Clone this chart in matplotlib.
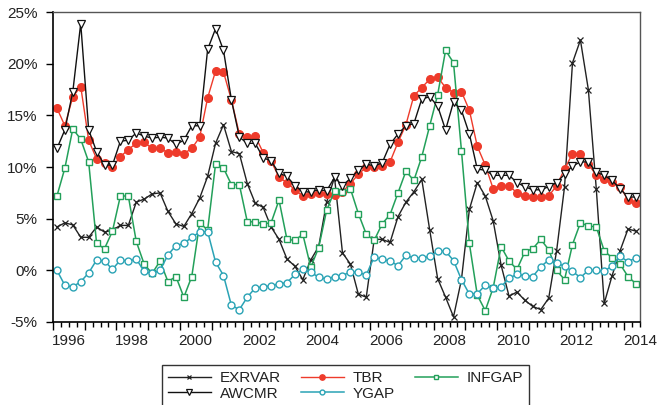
import numpy as np
import matplotlib
matplotlib.use("Agg")
import matplotlib.pyplot as plt
from matplotlib.ticker import FuncFormatter

# quarterly data, 1996Q1 - 2014Q2 (percent)
start_year = 1996
exrvar = [4.2, 4.6, 4.4, 3.2, 3.2, 4.2, 3.7, 3.9, 4.35, 4.35, 6.6, 6.9, 7.4, 7.5, 5.7, 4.5,
          4.25, 5.5, 7.0, 9.1, 12.3, 14.1, 11.5, 11.3, 8.4, 6.5, 6.1, 4.2, 3.0, 1.1, 0.4, -0.9,
          1.0, 2.3, 6.6, 9.0, 1.7, 0.6, -2.3, -2.6, 3.0, 3.0, 2.7, 5.2, 6.6, 7.6, 8.8, 3.9,
          -0.8, -2.6, -4.5, -0.9, 5.9, 8.5, 7.2, 4.8, 0.5, -2.5, -2.1, -2.9, -3.5, -3.8, -2.7, 1.9,
          8.1, 20.1, 22.3, 17.5, 7.9, -3.2, -0.5, 1.9, 4.0, 3.8]
tbr = [15.7, 14.0, 16.8, 17.8, 12.6, 10.8, 10.4, 10.0, 11.0, 11.7, 12.3, 12.4, 11.8, 11.8, 11.4, 11.5,
       11.3, 11.8, 12.9, 16.7, 19.3, 19.2, 16.5, 13.2, 12.9, 13.0, 11.4, 10.6, 9.0, 8.5, 7.8, 7.2,
       7.4, 7.5, 7.4, 7.3, 7.6, 8.4, 9.3, 10.0, 10.0, 10.1, 10.5, 12.4, 14.1, 16.9, 17.7, 18.5,
       18.7, 17.7, 17.2, 17.3, 15.5, 12.0, 10.2, 7.9, 8.2, 8.2, 7.5, 7.2, 7.1, 7.1, 7.2, 8.2,
       9.8, 11.3, 11.3, 10.3, 9.2, 8.8, 8.6, 8.1, 6.8, 6.5]
infgap = [7.2, 9.9, 13.7, 12.7, 10.5, 2.6, 2.1, 3.8, 7.2, 7.2, 2.8, 0.6, -0.3, 0.9, -1.1, -0.6,
          -2.6, -0.6, 4.6, 3.9, 10.3, 9.9, 8.3, 8.3, 4.7, 4.7, 4.5, 4.6, 6.8, 3.0, 2.9, 3.5,
          0.3, 2.2, 5.8, 7.7, 7.6, 7.9, 5.5, 3.5, 2.9, 4.5, 5.4, 7.5, 9.6, 8.7, 11.0, 14.0,
          17.0, 21.3, 20.1, 11.6, 2.6, -2.4, -3.9, -1.7, 2.3, 0.9, 0.1, 1.8, 2.1, 3.0, 2.0, 0.0,
          -0.9, 2.5, 4.6, 4.3, 4.2, 1.9, 1.2, 0.6, -0.6, -1.3]
awcmr = [11.8, 13.6, 17.3, 23.9, 13.6, 11.5, 10.2, 10.2, 12.5, 12.6, 13.3, 13.0, 12.8, 12.9, 12.8, 12.2,
         12.6, 14.0, 14.0, 21.4, 23.4, 21.3, 16.5, 12.9, 12.3, 12.3, 10.9, 10.6, 9.4, 9.1, 8.2, 7.6,
         7.6, 7.8, 7.7, 9.0, 8.2, 8.9, 9.7, 10.3, 10.1, 10.4, 12.2, 13.2, 14.0, 14.2, 16.6, 16.8,
         15.9, 13.6, 16.3, 15.5, 13.2, 9.8, 9.7, 9.2, 9.2, 9.2, 8.5, 8.1, 7.8, 7.8, 8.1, 8.5,
         9.3, 10.1, 10.5, 10.5, 9.5, 9.2, 8.7, 7.9, 7.1, 7.1]
ygap = [0.0, -1.45, -1.6, -1.1, -0.25, 1.0, 0.9, 0.1, 1.0, 0.9, 1.1, -0.1, -0.3, 0.0, 1.5, 2.4,
        2.6, 3.2, 3.7, 3.75, 0.8, -0.5, -3.4, -3.8, -2.6, -1.7, -1.6, -1.5, -1.3, -1.2, -0.4, 0.1,
        -0.2, -0.65, -0.85, -0.6, -0.5, -0.15, -0.2, -0.45, 1.3, 1.05, 0.9, 0.45, 1.45, 1.2, 1.2, 1.35,
        1.85, 1.85, 0.95, -0.9, -2.3, -2.25, -1.45, -1.75, -1.6, -0.75, -0.4, -0.5, -0.6, 0.35, 1.0, 0.7,
        0.4, -0.1, -0.7, 0.0, 0.0, -0.1, 0.45, 1.35, 0.85, 1.2]
year_labels = ['1996', '1998', '2000', '2002', '2004', '2006', '2008', '2010', '2012', '2014']

# observations sit in the middle of each quarter
t = start_year + 0.125 + 0.25 * np.arange(len(tbr))

plt.rcParams['font.family'] = ['Liberation Sans', 'DejaVu Sans']
plt.rcParams['font.size'] = 11

fig = plt.figure(figsize=(6.58, 4.05), dpi=100)
ax = fig.add_axes([0.0805, 0.205, 0.892, 0.765])

l_exr, = ax.plot(t, exrvar, color='#222222', lw=1.0, marker='x', ms=4.5, mew=0.9, label='EXRVAR')
l_tbr, = ax.plot(t, tbr, color='#ee3b2b', lw=1.0, marker='o', ms=5.5, mec='#ee3b2b', label='TBR')
l_inf, = ax.plot(t, infgap, color='#23a05a', lw=1.1, marker='s', ms=5, mfc='white', mew=1.0, label='INFGAP')
l_awc, = ax.plot(t, awcmr, color='#111111', lw=1.0, marker='v', ms=5.5, mfc='white', mew=0.9, label='AWCMR')
l_ygp, = ax.plot(t, ygap, color='#2aa3b5', lw=1.1, marker='o', ms=5, mfc='white', mew=1.0, label='YGAP')

ax.set_ylim(-5, 25)
ax.set_yticks(np.arange(-5, 26, 5))
ax.yaxis.set_major_formatter(FuncFormatter(lambda v, p: '%d%%' % v))
ax.set_xlim(1996, 2014.5)

# year ticks long, quarter ticks short, labels every second year mid-year
years = np.arange(1996, 2015)
ax.set_xticks(years)
ax.set_xticklabels([''] * len(years))
quarters = np.arange(1996, 2014.51, 0.25)
qlabels = []
for q in quarters:
    lab = ''
    if abs(q - (int(q) + 0.5)) < 1e-6 and str(int(q)) in year_labels:
        lab = str(int(q))
    qlabels.append(lab)
ax.set_xticks(quarters, minor=True)
ax.set_xticklabels(qlabels, minor=True)

ax.tick_params(axis='x', which='major', length=6, width=1, direction='out')
ax.tick_params(axis='x', which='minor', length=3.5, width=1, direction='out', pad=5,
               labelsize=11, labelcolor='#222222')
ax.tick_params(axis='y', length=5, width=1, direction='out', pad=6, labelsize=11, labelcolor='#222222')

for s in ['left', 'bottom']:
    ax.spines[s].set_linewidth(1.2)
    ax.spines[s].set_color('black')
for s in ['top', 'right']:
    ax.spines[s].set_linewidth(1.0)
    ax.spines[s].set_color('#555555')

# legend filled column-wise: rows read EXRVAR TBR INFGAP / AWCMR YGAP
handles = [l_exr, l_awc, l_tbr, l_ygp, l_inf]
leg = fig.legend(handles, [h.get_label() for h in handles], ncol=3, loc='upper left',
                 bbox_to_anchor=(0.246, 0.099), borderaxespad=0, frameon=True,
                 fancybox=False, edgecolor='black', handlelength=2.8, handletextpad=0.6,
                 columnspacing=1.3, labelspacing=0.1, borderpad=0.4, markerscale=0.7,
                 prop={'size': 11})
leg.get_frame().set_linewidth(1.0)
for txt in leg.get_texts():
    txt.set_color('#222222')

plt.savefig('out.png', dpi=100)
